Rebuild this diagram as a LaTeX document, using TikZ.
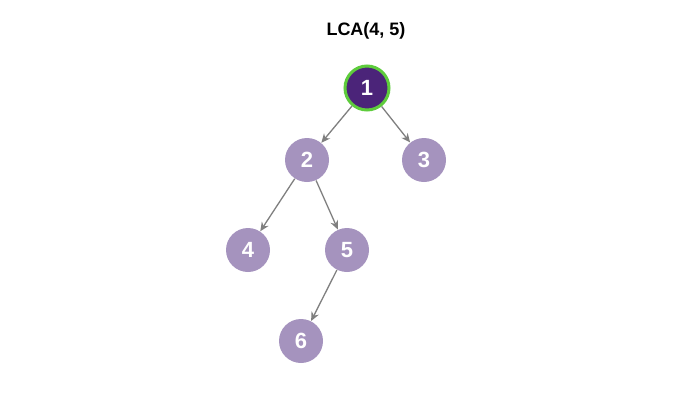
\documentclass[tikz,border=0pt]{standalone}
\usepackage{fontspec}
\setmainfont{Liberation Sans}
\usetikzlibrary{arrows.meta}
\definecolor{leaf}{HTML}{A593BE}
\definecolor{lcafill}{HTML}{4B2479}
\definecolor{lcaring}{HTML}{5ECC3C}
\definecolor{edgegray}{HTML}{7F7F7F}
\begin{document}
\begin{tikzpicture}[x=1pt, y=-1pt, thick,
    vert/.style={circle, fill=leaf, minimum size=44pt, inner sep=0pt, text=white, font=\fontsize{22}{22}\selectfont\bfseries},
    lca/.style={vert, fill=lcafill, draw=lcaring, line width=3pt, minimum size=44pt},
    edge/.style={draw=edgegray, line width=1.3pt, -{Stealth[length=9pt, width=8pt]}}]
        \useasboundingbox (0,0) rectangle (674,402);
        % tree for LCA query
        \node (title) at (366,31) {\fontsize{18}{18}\selectfont\bfseries LCA(4, 5)};
        \node (n1) [lca] at (367,88) {1};
        \node (n2) [vert] at (307,160) {2};
        \node (n3) [vert] at (424,160) {3};
        \node (n4) [vert] at (248,250) {4};
        \node (n5) [vert] at (347,250) {5};
        \node (n6) [vert] at (301,341) {6};
        
        \draw[edge] (n1) -- (n2);
        \draw[edge] (n1) -- (n3);
        \draw[edge] (n2) -- (n4);
        \draw[edge] (n2) -- (n5);
        \draw[edge] (n5) -- (n6);
    \end{tikzpicture}
\end{document}
